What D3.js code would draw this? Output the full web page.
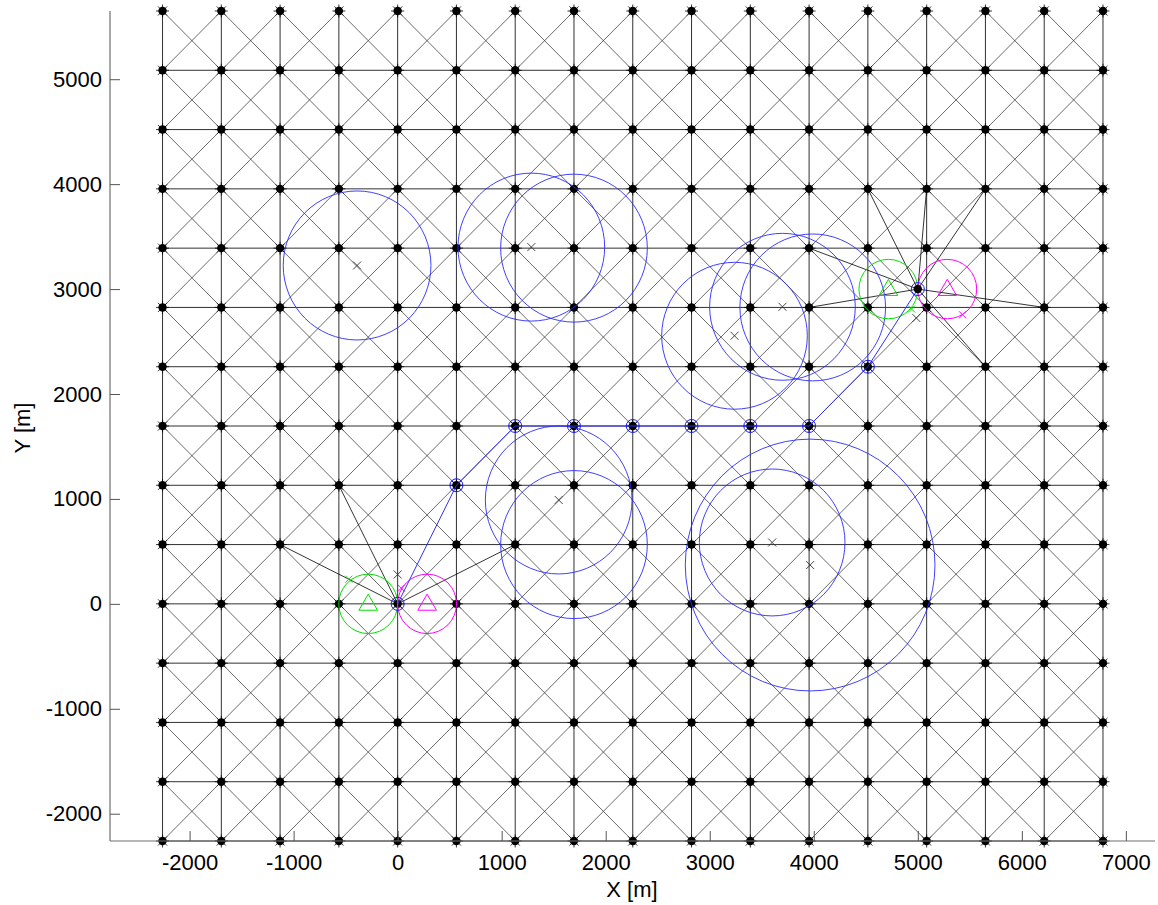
<!DOCTYPE html>
<html>
<head>
<meta charset="utf-8">
<script src="https://cdn.jsdelivr.net/npm/d3@7"></script>
<style>
  html, body { margin: 0; padding: 0; background: #fff; }
  svg { display: block; }
  text { font-family: "Liberation Sans", Arial, sans-serif; fill: #000; }
</style>
</head>
<body>
<svg id="chart" width="1158" height="905"></svg>
<script>
// ---- Data (metres) ----
const nodeX = [-2260, -1695, -1130, -565, 0, 565, 1130, 1695, 2260, 2825, 3390, 3955, 4520, 5085, 5650, 6215, 6780];
const nodeY = [-2260, -1695, -1130, -565, 0, 565, 1130, 1695, 2260, 2825, 3390, 3955, 4520, 5085, 5650];

const xTicks = [-2000, -1000, 0, 1000, 2000, 3000, 4000, 5000, 6000, 7000];
const yTicks = [-2000, -1000, 0, 1000, 2000, 3000, 4000, 5000];

// route through the grid
const routeX = [0, 565, 1130, 1695, 2260, 2825, 3390, 3955, 4520, 5000];
const routeY = [0, 1130, 1695, 1695, 1695, 1695, 1695, 1695, 2260, 3000];

// links from the start and end points to neighbouring nodes
const startPoint = [0, 0];
const startLinkX = [-1130, -565, 1130];
const startLinkY = [565, 1130, 565];
const endPoint = [5000, 3000];
const endLinkX = [4520, 5085, 5650, 3955, 3955, 6215, 5650];
const endLinkY = [3955, 3955, 3955, 3390, 2825, 2825, 2260];

// sensor pairs (triangles with range circles)
const greenX = [-283, 4717], greenY = [0, 3000];
const magentaX = [283, 5283], magentaY = [0, 3000];
const sensorR = 283;

// uncertainty circles
const circleX = [-390, 1285, 1695, 3238, 3699, 3990, 1548, 1695, 3600, 3965];
const circleY = [3225, 3400, 3390, 2555, 2831, 2825, 990, 565, 585, 370];
const circleR = [710, 705, 705, 700, 700, 700, 705, 705, 700, 1200];

// estimated positions
const estX = [-390, 1285, 3238, 3699, 1548, 3600, 3965, 0, 4986];
const estY = [3225, 3400, 2555, 2831, 990, 585, 370, 280, 2724];
const greenEstX = [-470, 4940], greenEstY = [235, 2810];
const magentaEstX = [35, 5430], magentaEstY = [150, 2755];

// ---- Layout ----
const svg = d3.select("#chart");
const x = d3.scaleLinear().domain([-2765, 7280]).range([110, 1155]);
const y = d3.scaleLinear().domain([-2260, 5650]).range([841, 11]);

const gLines = svg.append("g").attr("fill", "none");

// horizontal edges (rows below the top one)
nodeY.slice(0, nodeY.length - 1).forEach(yv => {
  gLines.append("line")
    .attr("x1", x(nodeX[0])).attr("x2", x(nodeX[nodeX.length - 1]))
    .attr("y1", y(yv)).attr("y2", y(yv))
    .attr("stroke", "#1a1a1a").attr("stroke-width", 0.9);
});
// vertical edges
nodeX.forEach(xv => {
  gLines.append("line")
    .attr("x1", x(xv)).attr("x2", x(xv))
    .attr("y1", y(nodeY[0])).attr("y2", y(nodeY[nodeY.length - 1]))
    .attr("stroke", "#1a1a1a").attr("stroke-width", 0.9);
});
// diagonal edges of every cell
for (let i = 0; i < nodeX.length - 1; i++) {
  for (let j = 0; j < nodeY.length - 1; j++) {
    gLines.append("line")
      .attr("x1", x(nodeX[i])).attr("y1", y(nodeY[j]))
      .attr("x2", x(nodeX[i + 1])).attr("y2", y(nodeY[j + 1]))
      .attr("stroke", "#3a3a3a").attr("stroke-width", 0.75);
    gLines.append("line")
      .attr("x1", x(nodeX[i + 1])).attr("y1", y(nodeY[j]))
      .attr("x2", x(nodeX[i])).attr("y2", y(nodeY[j + 1]))
      .attr("stroke", "#3a3a3a").attr("stroke-width", 0.75);
  }
}

// links from start/end points
const gLinks = svg.append("g").attr("stroke", "#000").attr("stroke-width", 0.8);
startLinkX.forEach((lx, k) => {
  gLinks.append("line")
    .attr("x1", x(startPoint[0])).attr("y1", y(startPoint[1]))
    .attr("x2", x(lx)).attr("y2", y(startLinkY[k]));
});
endLinkX.forEach((lx, k) => {
  gLinks.append("line")
    .attr("x1", x(endPoint[0])).attr("y1", y(endPoint[1]))
    .attr("x2", x(lx)).attr("y2", y(endLinkY[k]));
});

// grid nodes: asterisk + filled dot
const nodes = [];
nodeX.forEach(xv => nodeY.forEach(yv => nodes.push([xv, yv])));
const gNodes = svg.append("g");
const arm = 6.5;
nodes.forEach(([xv, yv]) => {
  const cx = x(xv), cy = y(yv);
  const g = gNodes.append("g").attr("stroke", "#000").attr("stroke-width", 0.8);
  [[arm, 0], [0, arm], [arm * 0.7, arm * 0.7], [arm * 0.7, -arm * 0.7]].forEach(([dx, dy]) => {
    g.append("line").attr("x1", cx - dx).attr("y1", cy - dy).attr("x2", cx + dx).attr("y2", cy + dy);
  });
  gNodes.append("circle").attr("cx", cx).attr("cy", cy).attr("r", 4.2).attr("fill", "#000");
});

// uncertainty circles
const gCirc = svg.append("g").attr("fill", "none").attr("stroke", "#2a2aff").attr("stroke-width", 0.9);
circleX.forEach((cxv, k) => {
  gCirc.append("ellipse")
    .attr("cx", x(cxv)).attr("cy", y(circleY[k]))
    .attr("rx", x(cxv + circleR[k]) - x(cxv))
    .attr("ry", y(circleY[k]) - y(circleY[k] + circleR[k]));
});

// sensor circles and triangles
function sensor(xs, ys, color, ex, ey) {
  const g = svg.append("g").attr("fill", "none").attr("stroke", color).attr("stroke-width", 1);
  xs.forEach((sx, k) => {
    const cx = x(sx), cy = y(ys[k]);
    g.append("ellipse").attr("cx", cx).attr("cy", cy)
      .attr("rx", x(sx + sensorR) - cx).attr("ry", cy - y(ys[k] + sensorR));
    g.append("path").attr("d", d3.symbol(d3.symbolTriangle, 150)())
      .attr("transform", `translate(${cx},${cy + 1})`);
  });
  ex.forEach((exv, k) => {
    const cx = x(exv), cy = y(ey[k]);
    g.append("path").attr("d", `M${cx - 3.5},${cy - 3.5}L${cx + 3.5},${cy + 3.5}M${cx - 3.5},${cy + 3.5}L${cx + 3.5},${cy - 3.5}`);
  });
}
sensor(greenX, greenY, "#00e000", greenEstX, greenEstY);
sensor(magentaX, magentaY, "#ff00ff", magentaEstX, magentaEstY);

// estimated positions
const gEst = svg.append("g").attr("stroke", "#333").attr("stroke-width", 0.9);
estX.forEach((ex, k) => {
  const cx = x(ex), cy = y(estY[k]);
  gEst.append("path").attr("d", `M${cx - 4},${cy - 4}L${cx + 4},${cy + 4}M${cx - 4},${cy + 4}L${cx + 4},${cy - 4}`);
});

// route
const route = routeX.map((rx, k) => [rx, routeY[k]]);
svg.append("path")
  .attr("d", d3.line().x(d => x(d[0])).y(d => y(d[1]))(route))
  .attr("fill", "none").attr("stroke", "#3030ff").attr("stroke-width", 1);
svg.append("circle").attr("cx", x(endPoint[0])).attr("cy", y(endPoint[1])).attr("r", 4.2).attr("fill", "#000");
svg.append("g").selectAll("circle").data(route).join("circle")
  .attr("cx", d => x(d[0])).attr("cy", d => y(d[1])).attr("r", 6.5)
  .attr("fill", "none").attr("stroke", "#1a1aff").attr("stroke-width", 1);

// ---- Axes ----
const xAxis = d3.axisBottom(x).tickValues(xTicks).tickSize(-10).tickPadding(13).tickFormat(d3.format("d"));
const yAxis = d3.axisLeft(y).tickValues(yTicks).tickSize(-10).tickPadding(8).tickFormat(d3.format("d"));

const gx = svg.append("g").attr("transform", "translate(0,841)").call(xAxis);
const gy = svg.append("g").attr("transform", "translate(110,0)").call(yAxis);
[gx, gy].forEach(g => {
  g.select(".domain").attr("stroke", "#6e6e6e").attr("stroke-width", 1.2);
  g.selectAll(".tick line").attr("stroke", "#555").attr("stroke-width", 1);
  g.selectAll(".tick text")
    .attr("font-family", '"Liberation Sans", Arial, sans-serif')
    .attr("font-size", 22).attr("fill", "#000")
    .text(d => d < 0 ? "-" + Math.abs(d) : d);
});
gx.select(".domain").attr("d", "M110,0H1155");
gy.select(".domain").attr("d", "M0,841V11");

svg.append("text").attr("x", 632).attr("y", 897).attr("text-anchor", "middle")
  .attr("font-size", 22).text("X [m]");
svg.append("text").attr("transform", "translate(30,428) rotate(-90)").attr("text-anchor", "middle")
  .attr("font-size", 22).text("Y [m]");
</script>
</body>
</html>
